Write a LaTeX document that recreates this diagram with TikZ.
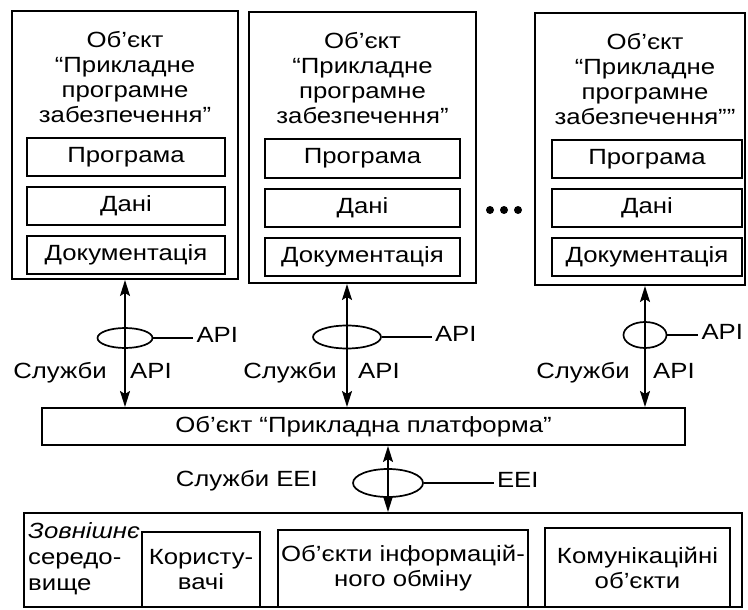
\documentclass[tikz,border=0pt]{standalone}
\usepackage{fontspec}
\setmainfont{Liberation Sans}[FakeStretch=1.17]
\usetikzlibrary{positioning,shapes.geometric,arrows.meta}
\tikzset{
    box/.style={draw, line width=2pt, inner sep=0pt},
    lbl/.style={inner sep=0pt},
    port/.style={draw, ellipse, line width=1.7pt, inner sep=0pt},
    link/.style={line width=1.7pt, <->},
    dot/.style={circle, fill, inner sep=0pt, minimum size=8pt}
}

\begin{document}
\begin{tikzpicture}[x=1pt, y=-1pt, font=\fontsize{22}{25}\selectfont, >={Stealth[length=16pt,width=10pt,inset=3pt]}]
\tikzstyle{part}=[box, minimum height=38pt]
\useasboundingbox (0,0) rectangle (748,610);

\node[box, minimum width=226pt, minimum height=268pt] (obj1) at (125,145) {};
\node[lbl, align=center, below=21pt of obj1.north] (title1) {Об’єкт\\“Прикладне\\програмне\\забезпечення”};
\node[part, minimum width=198pt] (prog1) at (126,157) {Програма};
\node[part, minimum width=198pt, below=9pt of prog1] (data1) {Дані};
\node[part, minimum width=198pt, below=9pt of data1] (doc1) {Документація};

\node[box, minimum width=227pt, minimum height=271pt] (obj2) at (362.5,147.5) {};
\node[lbl, align=center, below=21pt of obj2.north] (title2) {Об’єкт\\“Прикладне\\програмне\\забезпечення”};
\node[part, minimum width=195pt] (prog2) at (362.5,158.5) {Програма};
\node[part, minimum width=195pt, below=9pt of prog2] (data2) {Дані};
\node[part, minimum width=195pt, below=9pt of data2] (doc2) {Документація};

\node[box, minimum width=210pt, minimum height=272pt] (obj3) at (640,149) {};
\node[lbl, align=center, below=21pt of obj3.north, xshift=5pt] (title3) {Об’єкт\\“Прикладне\\програмне\\забезпечення””};
\node[part, minimum width=190pt] (prog3) at (647,159) {Програма};
\node[part, minimum width=190pt, below=9pt of prog3] (data3) {Дані};
\node[part, minimum width=190pt, below=9pt of data3] (doc3) {Документація};

\node[dot] (dot1) at (490,210) {};
\node[dot] (dot2) at (504,210) {};
\node[dot] (dot3) at (518,210) {};

\node[box, minimum width=643pt, minimum height=37pt] (plat) at (363.5,426.5) {Об’єкт “Прикладна платформа”};

\coordinate (t1) at (obj1.south);
\coordinate (t2) at ([xshift=-15.5pt]obj2.south);
\coordinate (t3) at ([xshift=5pt]obj3.south);
\draw[link] (t1) -- (t1 |- plat.north);
\draw[link] (t2) -- (t2 |- plat.north);
\draw[link] (t3) -- (t3 |- plat.north);

\node[port, minimum width=55pt, minimum height=20pt] (e1) at (125,338) {};
\node[port, minimum width=68pt, minimum height=23pt] (e2) at (347,337) {};
\node[port, minimum width=43pt, minimum height=26pt] (e3) at (645,335) {};
\coordinate[right=40pt of e1.east] (c1);
\coordinate[right=50pt of e2.east] (c2);
\coordinate[right=31pt of e3.east] (c3);
\draw[line width=1.7pt] (e1) -- (c1);
\draw[line width=1.7pt] (e2) -- (c2);
\draw[line width=1.7pt] (e3) -- (c3);
\node[lbl, anchor=base west] (api1) at ([shift={(3pt,-4pt)}]c1) {API};
\node[lbl, anchor=base west] (api2) at ([shift={(3pt,-4pt)}]c2) {API};
\node[lbl, anchor=base west] (api3) at ([shift={(3pt,-4pt)}]c3) {API};

\node[lbl, anchor=base east] (srv1) at (107,378) {Служби};
\node[lbl, anchor=base west] (use1) at (130,378) {API};
\node[lbl, anchor=base east] (srv2) at (337,378) {Служби};
\node[lbl, anchor=base west] (use2) at (358,378) {API};
\node[lbl, anchor=base east] (srv3) at (630,378) {Служби};
\node[lbl, anchor=base west] (use3) at (653,378) {API};

\node[box, minimum width=718pt, minimum height=94pt] (env) at (383,560) {};
\node[lbl, align=left, anchor=north west] (envtxt) at (28,522) {\textit{Зовнішнє}\\[1pt]середо-\\[1pt]вище};
\node[box, align=center, minimum width=118pt, minimum height=75pt] (users) at (201,569.5) {Користу-\\вачі};
\node[box, align=center, minimum width=250pt, minimum height=77pt] (info) at (403,568.5) {Об’єкти інформацій-\\ного обміну};
\node[box, align=center, minimum width=185pt, minimum height=79pt] (comm) at (637.5,567.5) {Комунікаційні\\об’єкти};

\coordinate (t4) at ([xshift=24.5pt]plat.south);
\draw[link] (t4) -- (t4 |- env.north);
\node[port, minimum width=70pt, minimum height=28pt] (e4) at (388,483) {};
\coordinate[right=70pt of e4.east] (c4);
\draw[line width=1.7pt] (e4) -- (c4);
\node[lbl, anchor=base west] (eei) at ([shift={(3pt,-4pt)}]c4) {EEI};
\node[lbl, anchor=base east] (srv4) at (318,486) {Служби EEI};
\end{tikzpicture}
\end{document}
